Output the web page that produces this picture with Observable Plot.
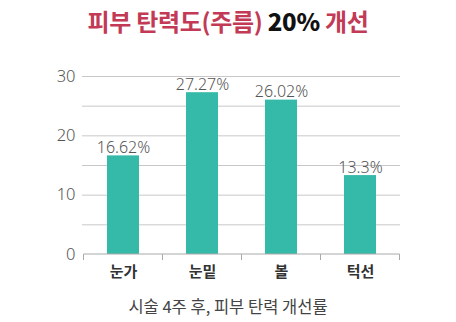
<!DOCTYPE html>
<html><head><meta charset="utf-8">
<script src="https://cdn.jsdelivr.net/npm/d3@7"></script>
<script src="https://cdn.jsdelivr.net/npm/@observablehq/plot@0.6"></script>
<style>
body{margin:0;background:#fff;font-family:"Noto Sans CJK KR","Noto Sans",sans-serif;}
#wrap{width:456px;height:322px;position:relative;overflow:hidden;}
#title{position:absolute;top:5px;left:0;width:456px;text-align:center;font-size:24px;font-weight:700;color:#c23a55;letter-spacing:-0.3px;line-height:32px;}
#title b{color:#111;}
#chart{position:absolute;top:48px;left:0;}
#caption{position:absolute;top:295px;left:0;width:456px;text-align:center;font-size:16.5px;color:#444;line-height:22px;}
</style></head>
<body><div id="wrap">
<div id="title">피부 탄력도(주름) <b>20%</b> 개선</div>
<div id="chart"></div>
<div id="caption">시술 4주 후, 피부 탄력 개선률</div>
</div>
<script>
const categories = ["눈가", "눈밑", "볼", "턱선"];
const values = [16.62, 27.27, 26.02, 13.3];
const valueLabels = ["16.62%", "27.27%", "26.02%", "13.3%"];
const gridValues = [0, 5, 10, 15, 20, 25, 30];
const yTicks = [0, 10, 20, 30];

const data = categories.map((c, i) => ({cat: c, v: values[i], label: valueLabels[i]}));
const numFont = '"Noto Sans","Noto Sans CJK KR",sans-serif';

function bandTicks(index, scales, values, dim) {
  const x = scales.x, y = scales.y;
  const step = x(categories[1]) - x(categories[0]);
  const bw = x.bandwidth ? x.bandwidth() : step * 0.4;
  const y0 = y(0);
  const g = d3.create("svg:g").attr("stroke", "#aaa").attr("stroke-width", 1);
  const bounds = categories.map(c => x(c) + bw / 2 - step / 2);
  bounds.push(x(categories[categories.length - 1]) + bw / 2 + step / 2);
  bounds.forEach(b => g.append("line").attr("x1", b).attr("x2", b).attr("y1", y0).attr("y2", y0 + 6));
  g.append("line").attr("x1", bounds[0]).attr("x2", bounds[bounds.length - 1]).attr("y1", y0).attr("y2", y0);
  return g.node();
}

const plot = Plot.plot({
  width: 456,
  height: 240,
  marginLeft: 82,
  marginRight: 56,
  marginTop: 28,
  marginBottom: 34,
  style: {fontFamily: '"Noto Sans CJK KR","Noto Sans",sans-serif', background: "#fff"},
  x: {domain: categories, paddingInner: 0.6, paddingOuter: 0.3, label: null},
  y: {domain: [0, 30], label: null},
  marks: [
    Plot.ruleY(gridValues.filter(d => d > 0), {stroke: "#c8c8c8", strokeOpacity: 1}),
    Plot.barY(data, {x: "cat", y: "v", fill: "#35b9a9"}),
    bandTicks,
    Plot.text(data, {x: "cat", y: "v", text: "label", lineAnchor: "bottom", dy: -3, fontSize: 16, fill: "#555", fontWeight: 300, fontFamily: numFont}),
    Plot.axisY(yTicks, {tickSize: 0, tickPadding: 7, fontSize: 16.5, fill: "#555", fontWeight: 300, fontFamily: numFont}),
    Plot.axisX({tickSize: 0, tickPadding: 12, fontSize: 15, fontWeight: 700, fill: "#333"})
  ]
});
document.getElementById("chart").appendChild(plot);
</script>
</body></html>
